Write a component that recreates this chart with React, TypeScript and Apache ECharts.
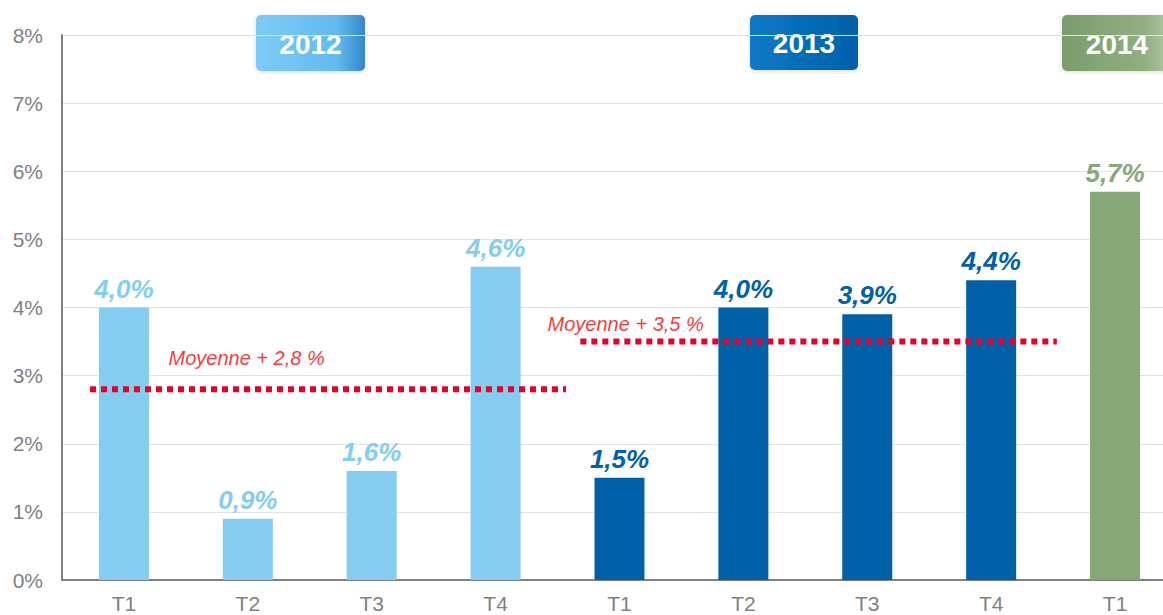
import React, { useEffect, useRef } from "react";
import * as echarts from "echarts";

const categories = ["T1", "T2", "T3", "T4", "T1", "T2", "T3", "T4", "T1"];
const values = [4.0, 0.9, 1.6, 4.6, 1.5, 4.0, 3.9, 4.4, 5.7];
const years = ["2012", "2012", "2012", "2012", "2013", "2013", "2013", "2013", "2014"];
const yearColors: Record<string, string> = { "2012": "#85cdf0", "2013": "#0060a8", "2014": "#86a877" };
const yTicks = [0, 1, 2, 3, 4, 5, 6, 7, 8];

// mean lines (x in category units, 0..9)
const meanValues = [2.8, 3.5];
const meanStart = [0.226, 4.184];
const meanEnd = [4.068, 8.03];
const meanLabels = ["Moyenne + 2,8 %", "Moyenne + 3,5 %"];
const meanLabelX = [1.49, 4.55];
const meanLabelY = [3.26, 3.76];

const badgeYears = ["2012", "2013", "2014"];

const fmt = (v: number) => v.toFixed(1).replace(".", ",") + "%";

export default function App() {
  const ref = useRef<HTMLDivElement>(null);
  useEffect(() => {
    document.body.style.margin = "0";
    const chart = echarts.init(ref.current!, null, { renderer: "svg" });
    const font = "'Liberation Sans', Arial, sans-serif";

    const badgeDefs: Record<string, { x: number; y: number; w: number; h: number; stops: string[] }> = {
      "2012": { x: 256, y: 15, w: 109, h: 56, stops: ["#7dcbf5", "#62baef", "#3386c7"] },
      "2013": { x: 750, y: 15, w: 108, h: 55, stops: ["#0c79c7", "#0068b2", "#005ea6"] },
      "2014": { x: 1062, y: 15, w: 110, h: 56, stops: ["#7a9d6b", "#90af82", "#b3caa7"] },
    };

    const graphic = badgeYears.map((yr) => {
      const b = badgeDefs[yr];
      return {
        type: "group",
        x: b.x,
        y: b.y,
        children: [
          {
            type: "rect",
            shape: { x: 0, y: 0, width: b.w, height: b.h, r: 5 },
            style: {
              fill: new echarts.graphic.LinearGradient(0, 0, 1, 0, [
                { offset: 0, color: b.stops[0] },
                { offset: 0.75, color: b.stops[1] },
                { offset: 1, color: b.stops[2] },
              ]),
              shadowBlur: 4,
              shadowColor: "rgba(0,0,0,0.15)",
              shadowOffsetY: 1,
            },
          },
          {
            type: "text",
            style: {
              x: b.w / 2,
              y: b.h / 2 + 1,
              text: yr,
              fill: "#ffffff",
              font: "bold 28px " + font,
              align: "center",
              verticalAlign: "middle",
            },
          },
        ],
      };
    });

    const meanSeries = meanValues.map((m, i) => ({
      type: "line",
      xAxisIndex: 1,
      yAxisIndex: 0,
      data: [
        [meanStart[i], m],
        [meanEnd[i], m],
      ],
      symbol: "none",
      silent: true,
      z: 5,
      lineStyle: { color: "#e8002d", width: 6, type: [6, 5], cap: "butt" },
    }));

    chart.setOption({
      animation: false,
      graphic,
      grid: { left: 62, top: 35, bottom: 35, right: -14, outerBoundsMode: "none", containLabel: false },
      xAxis: [
        {
          type: "category",
          data: categories,
          axisLine: { show: true, lineStyle: { color: "#808080", width: 2 } },
          axisTick: { show: false },
          axisLabel: { color: "#7f7f7f", fontSize: 21, fontFamily: font, margin: 13 },
          splitLine: { show: false },
        },
        { type: "value", min: 0, max: 9, show: false },
      ],
      yAxis: {
        type: "value",
        min: yTicks[0],
        max: yTicks[yTicks.length - 1],
        interval: 1,
        axisLine: { show: true, lineStyle: { color: "#808080", width: 2 } },
        axisTick: { show: false },
        axisLabel: { color: "#7f7f7f", fontSize: 21, fontFamily: font, margin: 19, formatter: "{value}%" },
        splitLine: { lineStyle: { color: "#e3e3e3", width: 1 } },
      },
      series: [
        {
          type: "bar",
          barWidth: 50,
          z: 3,
          data: values.map((v, i) => ({
            value: v,
            itemStyle: { color: yearColors[years[i]] },
            label: { color: yearColors[years[i]] },
          })),
          label: {
            show: true,
            position: "top",
            distance: 6,
            fontSize: 26,
            fontWeight: "bold",
            fontStyle: "italic",
            fontFamily: font,
            formatter: (p: any) => fmt(p.value),
          },
        },
        ...meanSeries,
        {
          type: "scatter",
          xAxisIndex: 1,
          symbolSize: 0,
          silent: true,
          data: meanLabels.map((t, i) => ({ value: [meanLabelX[i], meanLabelY[i]], name: t })),
          label: {
            show: true,
            position: "inside",
            formatter: (p: any) => p.name,
            color: "#ff0000",
            fontSize: 20,
            fontStyle: "italic",
            fontFamily: font,
          },
        },
      ],
    });
    return () => chart.dispose();
  }, []);
  return <div ref={ref} style={{ width: 1163, height: 615 }} />;
}
